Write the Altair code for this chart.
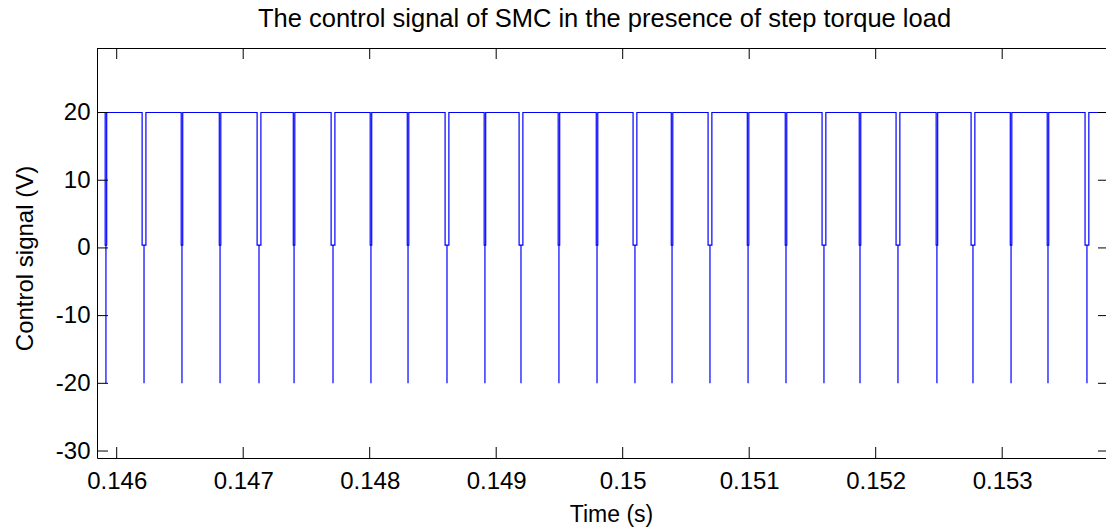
import altair as alt
import pandas as pd

title_text = "The control signal of SMC in the presence of step torque load"
x_title = "Time (s)"
y_title = "Control signal (V)"

x_ticks = [0.146, 0.147, 0.148, 0.149, 0.150, 0.151, 0.152, 0.153]
y_ticks = [-30, -20, -10, 0, 10, 20]

x_range = [0.1458443, 0.1538206]
y_range = [-31.03, 29.53]

# chattering events (time of each notch centre)
spike_center = [0.145915, 0.146216, 0.146516, 0.146817, 0.147125, 0.147402,
                0.147710, 0.148010, 0.148303, 0.148611, 0.148911, 0.149196,
                0.149496, 0.149797, 0.150097, 0.150390, 0.150690, 0.150991,
                0.151291, 0.151591, 0.151876, 0.152176, 0.152484, 0.152769,
                0.153070, 0.153362, 0.153670]
spike_kind = ["T", "H", "T", "T", "H", "T", "H", "T", "T", "H", "T", "H",
              "T", "T", "H", "T", "H", "T", "T", "H", "T", "H", "T", "H",
              "T", "T", "H"]
notch_width = {"T": 0.000012, "H": 0.000030}
high_level = 20.0
notch_level = 0.4
low_level = -20.0
t_start = 0.1458443
t_end = 0.1538206

rows = [(t_start, high_level)]
for c, k in zip(spike_center, spike_kind):
    w = notch_width[k]
    rows += [(c - w / 2, high_level), (c - w / 2, notch_level), (c, notch_level),
             (c, low_level), (c, notch_level), (c + w / 2, notch_level),
             (c + w / 2, high_level)]
rows.append((t_end, high_level))
df = pd.DataFrame(rows, columns=["t", "v"])
df["i"] = range(len(df))

FONT = "Liberation Sans"
W, H = 1009, 410

xs = alt.Scale(domain=x_range, nice=False, zero=False)
ys = alt.Scale(domain=y_range, nice=False, zero=False)

x_axis = alt.Axis(
    values=x_ticks, format="~g", title=x_title, grid=False, ticks=False,
    domain=True, domainColor="black", domainWidth=1,
    labelFont=FONT, labelFontSize=24, labelColor="black", labelPadding=11,
    titleFont=FONT, titleFontSize=23, titleFontWeight="normal", titleColor="black",
    titleX=514, titleAlign="center", titleY=63, titleBaseline="alphabetic")
y_axis = alt.Axis(
    values=y_ticks, title=y_title, grid=False, ticks=False,
    labelExpr="datum.value < 0 ? '-' + abs(datum.value) : '' + datum.value",
    domain=True, domainColor="black", domainWidth=1,
    labelFont=FONT, labelFontSize=24, labelColor="black", labelPadding=7,
    titleFont=FONT, titleFontSize=24, titleFontWeight="normal", titleColor="black",
    titleX=-65, titleY=210, titleBaseline="alphabetic")

line = alt.Chart(df).mark_line(color="#0000ff", strokeWidth=1.2, clip=True).encode(
    x=alt.X("t:Q", scale=xs, axis=x_axis),
    y=alt.Y("v:Q", scale=ys, axis=y_axis),
    order=alt.Order("i:Q"),
)

xt = pd.DataFrame({"t": x_ticks})
yt = pd.DataFrame({"v": y_ticks})

top_spine = alt.Chart(pd.DataFrame({"t": [x_range[0]]})).mark_rule(
    color="black", strokeWidth=1).encode(
    x=alt.value(0), x2=alt.value(W), y=alt.value(0.5))
bottom_ticks = alt.Chart(xt).mark_rule(color="black", strokeWidth=1).encode(
    x=alt.X("t:Q", scale=xs, axis=x_axis), y=alt.value(H), y2=alt.value(H - 11))
top_ticks = alt.Chart(xt).mark_rule(color="black", strokeWidth=1).encode(
    x=alt.X("t:Q", scale=xs, axis=x_axis), y=alt.value(0), y2=alt.value(11))
left_ticks = alt.Chart(yt).mark_rule(color="black", strokeWidth=1).encode(
    y=alt.Y("v:Q", scale=ys, axis=y_axis), x=alt.value(0), x2=alt.value(11))
right_ticks = alt.Chart(yt).mark_rule(color="black", strokeWidth=1).encode(
    y=alt.Y("v:Q", scale=ys, axis=y_axis), x=alt.value(W), x2=alt.value(W - 8))

chart = alt.layer(line, top_spine, bottom_ticks, top_ticks, left_ticks, right_ticks).properties(
    width=W, height=H,
    autosize=alt.AutoSizeParams(type="none"),
    padding={"left": 89, "top": 40, "right": 0, "bottom": 70},
    title=alt.TitleParams(title_text, font=FONT, fontSize=25.5, fontWeight="normal",
                          color="black", anchor="middle", offset=15, dx=3),
).configure(background="white").configure_view(stroke=None)

chart.save("out.html", embed_options={"renderer": "svg", "actions": False})
